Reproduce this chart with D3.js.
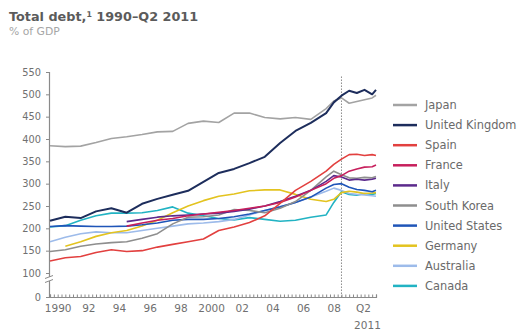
<!DOCTYPE html>
<html>
<head>
<meta charset="utf-8">
<script src="https://cdn.jsdelivr.net/npm/d3@7/dist/d3.min.js"></script>
<style>
  html, body { margin: 0; padding: 0; background: #fff; }
  svg { display: block; }
  text { font-family: "DejaVu Sans", "Liberation Sans", Arial, sans-serif; }
</style>
</head>
<body>
<svg id="chart" width="525" height="331"></svg>
<script>
// Reporting periods (year fractions); yearly through 2008, half-yearly after, ending Q2 2011
const periods = [1990, 1991, 1992, 1993, 1994, 1995, 1996, 1997, 1998, 1999,
                 2000, 2001, 2002, 2003, 2004, 2005, 2006, 2007, 2008,
                 2008.5, 2009, 2009.5, 2010, 2010.5, 2011, 2011.25];

// Total debt, % of GDP (null = no data for that period)
const japan = [385, 383, 384, 392, 401, 405, 410, 416, 417, 435,
               440, 437, 458, 458, 448, 445, 448, 444, 468,
               485, 492, 480, 484, 488, 492, 498];
const unitedKingdom = [217, 226, 223, 238, 245, 235, 255, 266, 275, 284,
                       304, 324, 333, 346, 360, 391, 418, 436, 458,
                       482, 497, 508, 503, 510, 500, 510];
const spain = [127, 134, 137, 146, 152, 148, 150, 158, 164, 170,
               176, 195, 203, 213, 228, 256, 285, 305, 328,
               343, 355, 365, 366, 363, 365, 363];
const france = [null, null, null, null, null, 205, 212, 218, 222, 228,
                232, 236, 240, 245, 250, 258, 270, 285, 300,
                312, 318, 328, 333, 337, 338, 342];
const italy = [null, null, null, null, null, 215, 220, 225, 228, 230,
               232, 234, 238, 243, 250, 260, 272, 285, 305,
               318, 315, 308, 310, 308, 310, 312];
const southKorea = [148, 152, 160, 165, 168, 170, 178, 188, 210, 225,
                    226, 230, 242, 240, 235, 245, 260, 285, 315,
                    328, 320, 313, 312, 314, 313, 316];
const unitedStates = [204, 206, 205, 204, 204, 205, 208, 212, 218, 220,
                      220, 222, 226, 232, 240, 248, 258, 270, 290,
                      298, 300, 292, 287, 285, 282, 285];
const germany = [null, 160, 170, 182, 190, 195, 205, 218, 235, 250,
                 262, 272, 277, 284, 286, 286, 276, 265, 260,
                 265, 280, 283, 281, 278, 279, 280];
const australia = [170, 180, 188, 192, 190, 190, 195, 200, 205, 210,
                   212, 215, 220, 230, 240, 248, 258, 270, 283,
                   290, 285, 278, 276, 275, 273, 272];
const canada = [203, 206, 218, 228, 234, 234, 235, 240, 248, 234,
                228, 222, 219, 224, 220, 216, 218, 225, 230,
                258, 282, 276, 274, 278, 276, 278];

const countries = ["Japan", "United Kingdom", "Spain", "France", "Italy",
                   "South Korea", "United States", "Germany", "Australia", "Canada"];
const seriesValues = [japan, unitedKingdom, spain, france, italy,
                      southKorea, unitedStates, germany, australia, canada];
const colors = ["#a3a3a3", "#1d2d5c", "#e2403f", "#c71f5c", "#5c2a8c",
                "#8e8e8e", "#1f55b8", "#e3c31f", "#9dbbea", "#22b3c3"];

// Axis ticks and labels
const yTicks = [0, 100, 150, 200, 250, 300, 350, 400, 450, 500, 550];
const xLabelPositions = [1990.5, 1992.5, 1994.5, 1996.5, 1998.5, 2000.5,
                         2002.5, 2004.5, 2006.5, 2008.5, 2010.4];
const xLabels = ["1990", "92", "94", "96", "98", "2000", "02", "04", "06", "08", "Q2"];
const crisisMarker = 2009;

const svg = d3.select("#chart");

// Scales: the value axis is broken between 0 and 100
const x = d3.scaleLinear().domain([1990, 2011.25]).range([50, 376]);
const y = d3.scaleLinear().domain([0, 100, 550]).range([297, 273, 72]);

// Title
svg.append("text")
  .attr("x", 9).attr("y", 21)
  .attr("font-size", 12.8).attr("font-weight", "bold").attr("fill", "#5b5b5b")
  .text("Total debt,")
  .append("tspan").attr("font-size", 7.8).attr("dy", -4).text("1")
  .clone(true).attr("font-size", 12.8).attr("dy", 4).text(" 1990–Q2 2011");
svg.append("text")
  .attr("x", 9).attr("y", 35)
  .attr("font-size", 10.8).attr("fill", "#a6a6a6")
  .text("% of GDP");

// Y axis
const yAxis = svg.append("g")
  .attr("transform", "translate(49,0)")
  .call(d3.axisLeft(y).tickValues(yTicks).tickSize(3).tickPadding(5).tickFormat(d3.format("d")));
yAxis.select(".domain").attr("stroke", "#8a8a8a").attr("stroke-width", 1.2);
yAxis.selectAll(".tick line").attr("stroke", "#8a8a8a");
yAxis.selectAll(".tick text").attr("font-size", 9.8).attr("fill", "#707070")
  .attr("font-family", "DejaVu Sans, sans-serif");

// Axis break symbol between 0 and 100
const breakY = y(100) + 6;
svg.append("rect").attr("x", 45).attr("y", breakY - 2).attr("width", 8).attr("height", 4).attr("fill", "#fff");
[-2, 2].forEach(d => {
  svg.append("line")
    .attr("x1", 45).attr("x2", 53)
    .attr("y1", breakY + d + 1.5).attr("y2", breakY + d - 1.5)
    .attr("stroke", "#8a8a8a").attr("stroke-width", 1);
});

// X axis with quarterly minor ticks
const quarters = d3.range(1990, 2011.26, 0.25);
const xAxis = svg.append("g")
  .attr("transform", `translate(0,${y(0)})`)
  .call(d3.axisBottom(x).tickValues(quarters).tickSize(-2.5).tickFormat(""));
xAxis.select(".domain").attr("stroke", "#8a8a8a").attr("stroke-width", 1.2);
xAxis.selectAll(".tick line").attr("stroke", "#8a8a8a");

const xLabelAxis = svg.append("g")
  .attr("transform", `translate(0,${y(0)})`)
  .call(d3.axisBottom(x).tickValues(xLabelPositions).tickSize(0).tickPadding(8)
        .tickFormat((d, i) => xLabels[i]));
xLabelAxis.select(".domain").remove();
xLabelAxis.selectAll(".tick text").attr("font-size", 10.5).attr("fill", "#707070")
  .attr("font-family", "DejaVu Sans, sans-serif");
xLabelAxis.selectAll(".tick").filter((d, i) => i === xLabels.length - 1)
  .append("text")
  .attr("y", 25).attr("dy", "0.71em").attr("x", 4)
  .attr("font-size", 10.5).attr("fill", "#707070").attr("text-anchor", "middle")
  .text("2011");

// Dotted marker line at the end of 2008
svg.append("line")
  .attr("x1", x(crisisMarker)).attr("x2", x(crisisMarker))
  .attr("y1", y(540)).attr("y2", y(0))
  .attr("stroke", "#8a8a8a").attr("stroke-width", 1).attr("stroke-dasharray", "1.5,1.5");

// Series lines
const line = d3.line()
  .defined(d => d[1] != null)
  .x(d => x(d[0]))
  .y(d => y(d[1]));

const drawOrder = [9, 8, 7, 6, 5, 4, 3, 2, 0, 1];
drawOrder.forEach(i => {
  svg.append("path")
    .datum(periods.map((p, k) => [p, seriesValues[i][k]]))
    .attr("fill", "none")
    .attr("stroke", colors[i])
    .attr("stroke-width", i === 1 ? 2 : 1.6)
    .attr("stroke-linejoin", "round")
    .attr("d", line);
});

// Legend
const legend = svg.append("g").attr("transform", "translate(393,105)");
countries.forEach((name, i) => {
  const g = legend.append("g").attr("transform", `translate(0,${i * 20.1})`);
  g.append("line").attr("x1", 0).attr("x2", 24)
    .attr("stroke", colors[i]).attr("stroke-width", 2.5);
  g.append("text").attr("x", 32).attr("dy", "0.35em")
    .attr("font-size", 11.4).attr("fill", "#6a6a6a").text(name);
});
</script>
</body>
</html>
